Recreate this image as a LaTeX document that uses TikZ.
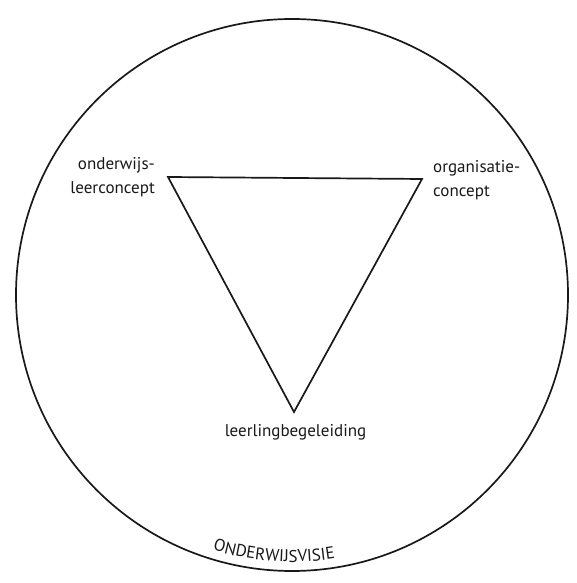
\documentclass[tikz,border=0pt]{standalone}
\usepackage{fontspec}
\setmainfont{PT Sans}
\usetikzlibrary{decorations.text}
\tikzset{
  shape line/.style={line width=1.7pt, draw=black!90},
  lbl/.style={font=\fontsize{17}{24}\selectfont, inner sep=0pt, text=black!90},
}
\begin{document}
\begin{tikzpicture}[x=1pt,y=1pt]
\useasboundingbox (0,0) rectangle (576,583);
\fill[white] (0,0) rectangle (576,583);
% outer circle
\coordinate (c) at (292,288);
\node[shape line, circle, minimum size=552pt, inner sep=0pt] (outer) at (c) {};
% triangle
\coordinate (tl) at (168,406);
\coordinate (tr) at (422,404);
\coordinate (bt) at (294,171);
\draw[shape line, line join=miter] (tl) -- (tr) -- (bt) -- cycle;
% labels
\node[lbl, align=right, anchor=east] (olc) at (155,406) {onderwijs-\\leerconcept};
\node[lbl, align=left, anchor=west] (oc) at (433,403) {organisatie-\\concept};
\node[lbl, anchor=center] (lb) at (295.5,150.5) {leerlingbegeleiding};
% curved text
\path[decorate, decoration={text along path, text align=center,
  text={|\fontsize{17}{20}\selectfont\color{black!90}|ONDERWIJSVISIE}}]
  (c) ++(246:267) arc[start angle=246, end angle=286, radius=267];
\end{tikzpicture}
\end{document}
